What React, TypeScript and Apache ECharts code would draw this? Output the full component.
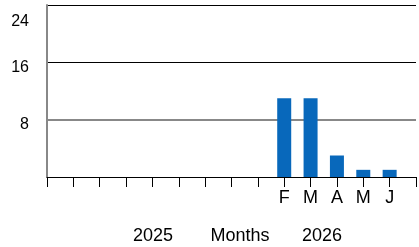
import React, { useEffect, useRef } from "react";
import * as echarts from "echarts";

// Months from May 2025 to Jul 2026
const months = ["May25", "Jun25", "Jul25", "Aug25", "Sep25", "Oct25", "Nov25", "Dec25", "Jan26", "Feb26", "Mar26", "Apr26", "May26", "Jun26", "Jul26"];
const monthLabels = ["", "", "", "", "", "", "", "", "", "F", "M", "A", "M", "J", ""];
const counts = [0, 0, 0, 0, 0, 0, 0, 0, 0, 11, 11, 3, 1, 1, 0];
const yTicks = [0, 8, 16, 24];
const yearLabels = ["2025", "2026"];
const axisTitle = "Months";

const FONT = "'Liberation Sans', Arial, Helvetica, sans-serif";

export default function App() {
  const ref = useRef<HTMLDivElement>(null);
  useEffect(() => {
    if (!ref.current) return;
    const chart = echarts.init(ref.current, null, { renderer: "svg" });
    const yMax = yTicks[yTicks.length - 1];
    chart.setOption({
      animation: false,
      grid: { left: 47, top: 5, right: -1, bottom: 70, containLabel: false },
      xAxis: {
        type: "category",
        data: months,
        boundaryGap: false,
        axisLine: { show: true, lineStyle: { color: "#000", width: 1 } },
        axisTick: { show: true, length: 10, interval: 0, lineStyle: { color: "#000", width: 1 } },
        axisLabel: {
          interval: 0,
          margin: 11,
          fontSize: 18,
          fontFamily: FONT,
          color: "#000",
          formatter: (_v: string, i: number) => monthLabels[i],
        },
        splitLine: { show: false },
      },
      yAxis: [
        {
          type: "value",
          min: 0,
          max: yMax,
          interval: 8,
          axisLine: { show: true, lineStyle: { color: "#888", width: 2 } },
          axisTick: { show: false },
          axisLabel: {
            showMinLabel: false,
            margin: 18,
            fontSize: 16,
            fontFamily: FONT,
            color: "#000",
            padding: [8, 0, 0, 0],
            formatter: (v: number) => (v === yMax ? "{top|" + v + "}" : String(v)),
            rich: {
              top: { fontSize: 16, fontFamily: FONT, color: "#000", padding: [22, 0, 0, 0] },
            },
          },
          splitLine: { show: true, lineStyle: { color: ["#000", "#888", "#000", "#000"], width: 1 } },
        },
        {
          type: "value",
          min: 0,
          max: yMax,
          interval: 8,
          position: "left",
          axisLine: { show: false },
          axisTick: { show: false },
          axisLabel: { show: false },
          splitLine: { show: true, lineStyle: { color: ["transparent", "#888", "transparent", "transparent"], width: 2 } },
        },
      ],
      series: [
        {
          type: "bar",
          data: counts,
          barWidth: 14,
          itemStyle: { color: "#0868bb" },
        },
      ],
      graphic: [
        { type: "text", x: 153, y: 235, style: { text: yearLabels[0], fontSize: 18, fontFamily: FONT, fill: "#000", textAlign: "center", textVerticalAlign: "middle" } },
        { type: "text", x: 240, y: 235, style: { text: axisTitle, fontSize: 18, fontFamily: FONT, fill: "#000", textAlign: "center", textVerticalAlign: "middle" } },
        { type: "text", x: 322, y: 235, style: { text: yearLabels[1], fontSize: 18, fontFamily: FONT, fill: "#000", textAlign: "center", textVerticalAlign: "middle" } },
      ],
    });
    return () => chart.dispose();
  }, []);
  return <div ref={ref} style={{ position: "fixed", left: 0, top: 0, width: 419, height: 247 }} />;
}
